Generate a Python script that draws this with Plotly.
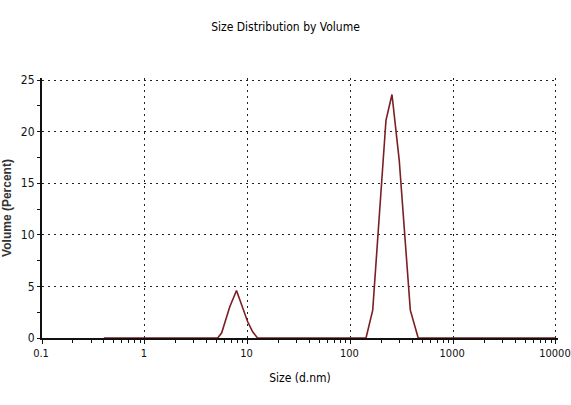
import plotly.graph_objects as go

size_nm = [0.4, 5.12, 5.6, 6.7, 7.8, 8.9, 10.0, 11.2, 12.5,
           142, 165, 222, 254, 299, 383, 457, 10000]
volume_pct = [0, 0, 0.5, 3.0, 4.6, 3.0, 1.6, 0.6, 0,
              0, 2.7, 21.1, 23.6, 17.2, 2.7, 0, 0]

x_tickvals = [0.1, 1, 10, 100, 1000, 10000]
x_ticktext = ["0.1", "1", "10", "100", "1000", "10000"]
y_tickvals = [0, 5, 10, 15, 20, 25]

FONT = "DejaVu Sans Condensed, Liberation Sans Narrow, Liberation Sans, sans-serif"

fig = go.Figure()
fig.add_trace(go.Scatter(x=size_nm, y=volume_pct, mode="lines",
                         line=dict(color="#7a1f24", width=1.6),
                         showlegend=False, hoverinfo="skip"))

fig.update_layout(
    width=571, height=405,
    margin=dict(l=42, r=13, t=78, b=67),
    paper_bgcolor="white", plot_bgcolor="white",
    font=dict(family=FONT, size=11, color="#111"),
    title=dict(text="Size Distribution by Volume", x=0.5, xanchor="center",
               y=1 - 27/405, yanchor="middle",
               font=dict(family=FONT, size=12, color="#000")),
)
fig.update_xaxes(
    type="log", range=[-1, 4.02], automargin=False,
    tickvals=x_tickvals, ticktext=x_ticktext,
    ticklabeloverflow="allow", ticklabelshift=-1,
    showgrid=True, gridcolor="#222", griddash="2px,4px", gridwidth=1.3,
    showline=True, linecolor="#111", linewidth=2,
    ticks="outside", ticklen=4, tickcolor="#111",
    minor=dict(ticks="outside", ticklen=3, tickcolor="#111", dtick="D1", showgrid=False),
    tickfont=dict(family=FONT, size=11, color="#111"),
    title=dict(text="Size (d.nm)", font=dict(family=FONT, size=12, color="#000"), standoff=14),
    zeroline=False,
)
fig.update_yaxes(
    range=[0, 25.2], automargin=False,
    tickvals=y_tickvals,
    showgrid=True, gridcolor="#222", griddash="2px,4px", gridwidth=1.3,
    showline=True, linecolor="#111", linewidth=2,
    ticks="outside", ticklen=3, tickcolor="#111",
    minor=dict(ticks="outside", ticklen=3, tickcolor="#111", dtick=2.5, showgrid=False),
    tickfont=dict(family=FONT, size=12, color="#111"),
    title=dict(text="<b>Volume (Percent)</b>", font=dict(family="Liberation Sans, Arial, sans-serif", size=12, color="#333"), standoff=10),
    zeroline=False,
)

fig.write_html("out.html")
